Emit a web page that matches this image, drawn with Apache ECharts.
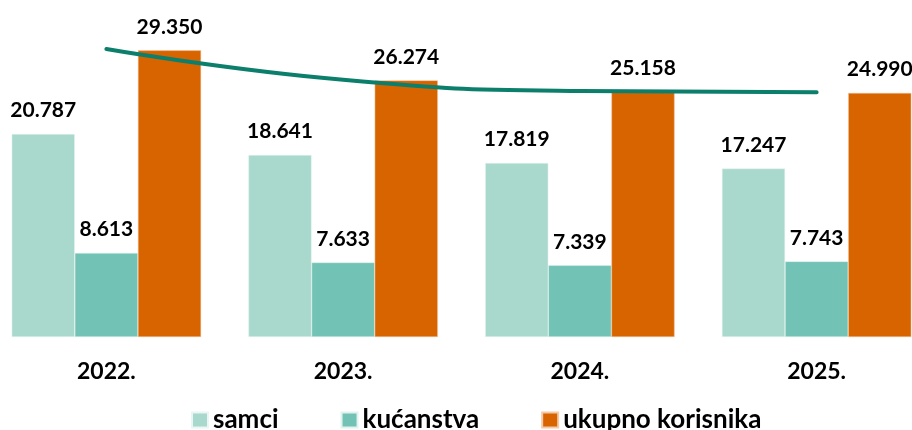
<!DOCTYPE html>
<html>
<head>
<meta charset="utf-8">
<script src="https://cdn.jsdelivr.net/npm/echarts@6/dist/echarts.min.js"></script>
<style>
  html, body { margin: 0; padding: 0; background: #ffffff; }
  #chart { width: 912px; height: 430px; }
</style>
</head>
<body>
<div id="chart"></div>
<script>
// Categories (years)
const years = ['2022.', '2023.', '2024.', '2025.'];

// Bar series values
const samci = [20787, 18641, 17819, 17247];
const kucanstva = [8613, 7633, 7339, 7743];
const ukupnoKorisnika = [29350, 26274, 25158, 24990];

// Trend curve through the totals
const trend = [29480, 26330, 25200, 25070];

const seriesNames = ['samci', 'kućanstva', 'ukupno korisnika'];
const colors = ['#a9d8cd', '#72c3b5', '#d86400'];
const trendColor = '#0b7f6b';

const fmt = v => {
  const s = String(Math.round(v));
  return s.replace(/\B(?=(\d{3})+(?!\d))/g, '.');
};

const labelStyle = {
  show: true,
  position: 'top',
  distance: 13,
  color: '#000',
  fontFamily: 'Lato',
  fontWeight: 'bold',
  fontSize: 21,
  formatter: p => fmt(p.value)
};

const chart = echarts.init(document.getElementById('chart'), null, { renderer: 'canvas' });

chart.setOption({
  animation: false,
  backgroundColor: '#ffffff',
  grid: { left: -12, right: -23, top: 44, bottom: 93, outerBoundsMode: 'none', containLabel: false },
  legend: {
    data: seriesNames,
    top: 402,
    left: 186,
    icon: 'rect',
    itemWidth: 16,
    itemHeight: 15,
    itemGap: 62,
    textStyle: { fontFamily: 'Lato', fontWeight: 'bold', fontSize: 26, color: '#000' }
  },
  xAxis: {
    type: 'category',
    data: years,
    axisLine: { show: false },
    axisTick: { show: false },
    axisLabel: {
      margin: 23,
      color: '#000',
      fontFamily: 'Lato',
      fontWeight: 'bold',
      fontSize: 23
    }
  },
  yAxis: {
    type: 'value',
    min: 0,
    max: 30000,
    show: false,
    splitLine: { show: false }
  },
  series: [
    {
      name: seriesNames[0], type: 'bar', data: samci,
      barGap: '0%', barCategoryGap: '20%',
      itemStyle: { color: colors[0], borderColor: '#eaf6f3', borderWidth: 0.5 },
      label: labelStyle
    },
    {
      name: seriesNames[1], type: 'bar', data: kucanstva,
      barGap: '0%', barCategoryGap: '20%',
      itemStyle: { color: colors[1], borderColor: '#e2f3ef', borderWidth: 0.5 },
      label: labelStyle
    },
    {
      name: seriesNames[2], type: 'bar', data: ukupnoKorisnika,
      barGap: '0%', barCategoryGap: '20%',
      itemStyle: { color: colors[2], borderColor: '#f4c9a6', borderWidth: 0.5 },
      label: labelStyle
    },
    {
      name: 'trend', type: 'line', data: trend,
      smooth: 0.5,
      symbol: 'none',
      z: 5,
      lineStyle: { color: trendColor, width: 4, cap: 'round' },
      label: { show: false },
      tooltip: { show: false }
    }
  ]
});
</script>
</body>
</html>
